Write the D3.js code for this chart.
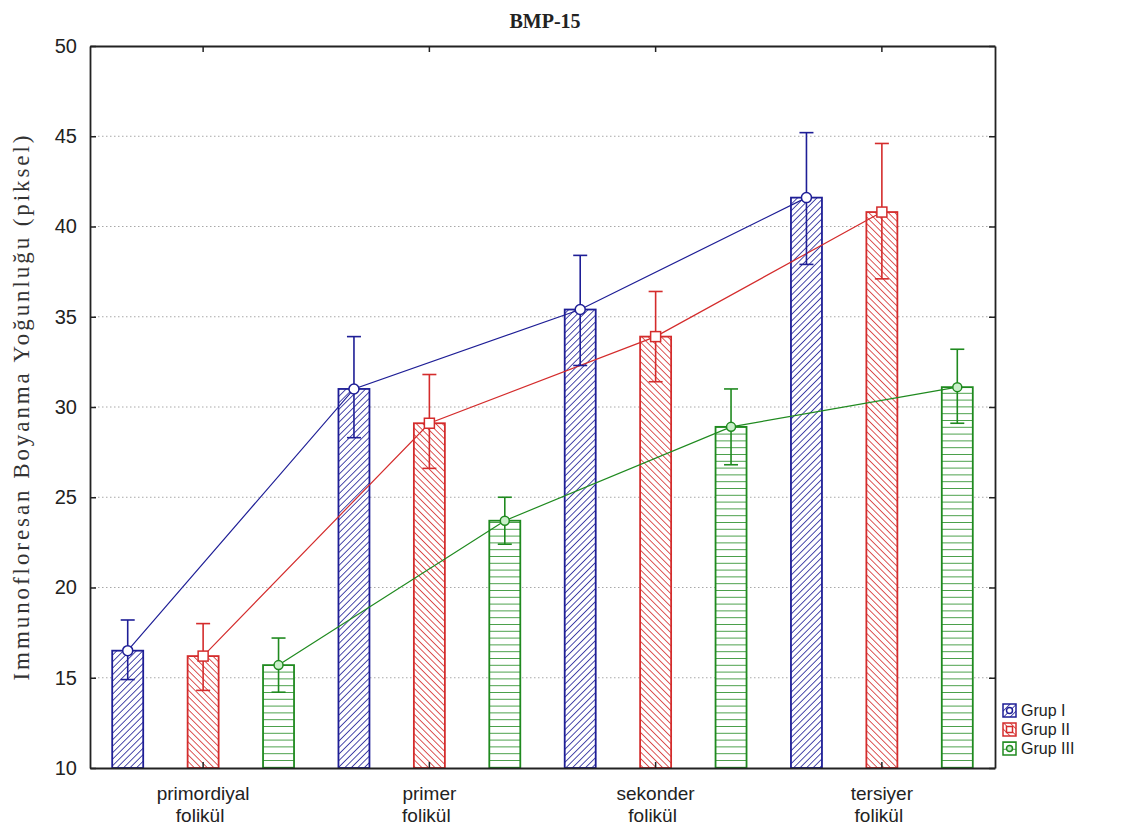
<!DOCTYPE html>
<html>
<head>
<meta charset="utf-8">
<script src="https://cdn.jsdelivr.net/npm/d3@7"></script>
<style>
  body { margin: 0; background: #fff; }
  svg { display: block; }
  .tick text { font-family: "Liberation Sans", Arial, sans-serif; font-size: 20px; fill: #222; }
</style>
</head>
<body>
<div id="chart"></div>
<script>
// categories (two text lines each)
var categories = ["primordiyal folikül", "primer folikül", "sekonder folikül", "tersiyer folikül"];
var categoryLines = [["primordiyal", "folikül"], ["primer", "folikül"], ["sekonder", "folikül"], ["tersiyer", "folikül"]];
var groups = ["Grup I", "Grup II", "Grup III"];

// means
var grup1 = [16.5, 31.0, 35.4, 41.6];
var grup2 = [16.2, 29.1, 33.9, 40.8];
var grup3 = [15.7, 23.7, 28.9, 31.1];

// error bar ends
var grup1Low = [14.9, 28.3, 32.3, 37.9];
var grup1High = [18.2, 33.9, 38.4, 45.2];
var grup2Low = [14.3, 26.6, 31.4, 37.1];
var grup2High = [18.0, 31.8, 36.4, 44.6];
var grup3Low = [14.2, 22.4, 26.8, 29.1];
var grup3High = [17.2, 25.0, 31.0, 33.2];

var yTicks = [10, 15, 20, 25, 30, 35, 40, 45, 50];

var colors = ["#1e1e96", "#d42c2c", "#1f8a1f"];
var markerFill = ["#ffffff", "#ffffff", "#c9efc9"];

var series = groups.map(function(g, i){
  var m = [grup1, grup2, grup3][i];
  var lo = [grup1Low, grup2Low, grup3Low][i];
  var hi = [grup1High, grup2High, grup3High][i];
  return {
    name: g, idx: i,
    values: categories.map(function(c, j){
      return { cat: c, mean: m[j], lo: lo[j], hi: hi[j] };
    })
  };
});

var W = 1125, H = 831;
var margin = { top: 46, right: 130, bottom: 63, left: 90 };
var width = W - margin.left - margin.right;
var height = H - margin.top - margin.bottom;

var svg = d3.select("#chart").append("svg")
  .attr("width", W).attr("height", H);

// hatch patterns
var defs = svg.append("defs");
function hatch(id, color, angle, size){
  var p = defs.append("pattern")
    .attr("id", id)
    .attr("patternUnits", "userSpaceOnUse")
    .attr("width", size).attr("height", size)
    .attr("patternTransform", "rotate(" + angle + ")");
  p.append("rect").attr("width", size).attr("height", size).attr("fill", "#fff");
  p.append("line")
    .attr("x1", 0).attr("y1", 0).attr("x2", 0).attr("y2", size)
    .attr("stroke", color).attr("stroke-width", 1.6);
}
hatch("pat0", colors[0], 45, 4.6);
hatch("pat1", colors[1], -45, 4.6);
hatch("pat2", colors[2], 90, 6.8);

var g = svg.append("g")
  .attr("transform", "translate(" + margin.left + "," + margin.top + ")");

var x0 = d3.scaleBand().domain(categories).range([0, width]);
var x1 = d3.scalePoint().domain(groups)
  .range([-x0.bandwidth() / 3, x0.bandwidth() / 3]);
var barW = x0.bandwidth() * 0.137;

var y = d3.scaleLinear().domain([10, 50]).range([height, 0]);

// grid
g.append("g")
  .selectAll("line")
  .data(yTicks.slice(1, -1))
  .enter().append("line")
  .attr("x1", 0).attr("x2", width)
  .attr("y1", function(d){ return y(d); })
  .attr("y2", function(d){ return y(d); })
  .attr("stroke", "#a8a8a8")
  .attr("stroke-dasharray", "1.5,2.5");

function cx(d, s){ return x0(d.cat) + x0.bandwidth() / 2 + x1(s.name); }

// bars
series.forEach(function(s){
  g.append("g").selectAll("rect")
    .data(s.values)
    .enter().append("rect")
    .attr("x", function(d){ return cx(d, s) - barW / 2; })
    .attr("y", function(d){ return y(d.mean); })
    .attr("width", barW)
    .attr("height", function(d){ return y(10) - y(d.mean); })
    .attr("fill", "url(#pat" + s.idx + ")")
    .attr("stroke", colors[s.idx])
    .attr("stroke-width", 1.8);
});

// mean lines
var line = d3.line()
  .x(function(d){ return d.px; })
  .y(function(d){ return y(d.mean); });
series.forEach(function(s){
  var pts = s.values.map(function(d){ return { px: cx(d, s), mean: d.mean }; });
  g.append("path")
    .datum(pts)
    .attr("d", line)
    .attr("fill", "none")
    .attr("stroke", colors[s.idx])
    .attr("stroke-width", 1.2);
});

// error bars
var capW = 7;
series.forEach(function(s){
  var eb = g.append("g").attr("stroke", colors[s.idx]).attr("stroke-width", 1.6);
  s.values.forEach(function(d){
    var c = cx(d, s);
    eb.append("line").attr("x1", c).attr("x2", c).attr("y1", y(d.lo)).attr("y2", y(d.hi));
    eb.append("line").attr("x1", c - capW).attr("x2", c + capW).attr("y1", y(d.hi)).attr("y2", y(d.hi));
    eb.append("line").attr("x1", c - capW).attr("x2", c + capW).attr("y1", y(d.lo)).attr("y2", y(d.lo));
  });
});

// markers
function drawMarker(sel, i, px, py, r){
  if(i === 1){
    sel.append("rect")
      .attr("x", px - r).attr("y", py - r)
      .attr("width", 2 * r).attr("height", 2 * r)
      .attr("fill", markerFill[i]).attr("stroke", colors[i]).attr("stroke-width", 1.5);
  } else {
    sel.append("circle")
      .attr("cx", px).attr("cy", py).attr("r", r)
      .attr("fill", markerFill[i]).attr("stroke", colors[i]).attr("stroke-width", 1.5);
  }
}
series.forEach(function(s){
  var mg = g.append("g");
  s.values.forEach(function(d){
    drawMarker(mg, s.idx, cx(d, s), y(d.mean), s.idx === 2 ? 4.5 : 5);
  });
});

// axes
var yLeft = d3.axisLeft(y).tickValues(yTicks).tickSizeInner(-6).tickSizeOuter(0).tickPadding(13);
var yRight = d3.axisRight(y).tickValues(yTicks).tickSizeInner(-6).tickSizeOuter(0).tickFormat("");
var xTop = d3.axisTop(x0).tickSizeInner(-6).tickSizeOuter(0).tickFormat("");
var xBottom = d3.axisBottom(x0).tickSizeInner(-6).tickSizeOuter(0).tickFormat("");

g.append("g").call(yLeft);
g.append("g").attr("transform", "translate(" + width + ",0)").call(yRight);
g.append("g").call(xTop);
g.append("g").attr("transform", "translate(0," + height + ")").call(xBottom);
g.selectAll(".domain").attr("stroke", "#222").attr("stroke-width", 1.8);
g.selectAll(".tick line").attr("stroke", "#222").attr("stroke-width", 1.5);

// category labels (one text per line)
var catLab = g.append("g")
  .attr("font-family", "'Liberation Sans', Arial, sans-serif")
  .attr("font-size", 19)
  .attr("fill", "#222")
  .attr("text-anchor", "middle");
categories.forEach(function(c, j){
  var mid = x0(c) + x0.bandwidth() / 2;
  catLab.append("text")
    .attr("x", mid)
    .attr("y", height + 32)
    .text(categoryLines[j][0]);
  catLab.append("text")
    .attr("x", mid - 3)
    .attr("y", height + 54)
    .text(categoryLines[j][1]);
});

// title
svg.append("text")
  .attr("x", 545).attr("y", 28)
  .attr("text-anchor", "middle")
  .attr("font-family", "'Liberation Serif', 'Times New Roman', serif")
  .attr("font-weight", "bold")
  .attr("font-size", 20)
  .attr("fill", "#222")
  .text("BMP-15");

// y label
svg.append("text")
  .attr("transform", "translate(29," + 408 + ")rotate(-90)")
  .attr("text-anchor", "middle")
  .attr("font-family", "'Liberation Serif', 'Times New Roman', serif")
  .attr("font-size", 23)
  .attr("fill", "#333")
  .attr("textLength", 545)
  .attr("lengthAdjust", "spacing")
  .text("Immunofloresan Boyanma Yoğunluğu (piksel)");

// legend
var leg = svg.append("g").attr("transform", "translate(1003,704)");
groups.forEach(function(name, i){
  var row = leg.append("g").attr("transform", "translate(0," + (i * 19) + ")");
  row.append("rect")
    .attr("width", 13).attr("height", 13)
    .attr("fill", "url(#pat" + i + ")")
    .attr("stroke", colors[i]).attr("stroke-width", 1.5);
  drawMarker(row, i, 6.5, 6.5, 3);
  row.append("text")
    .attr("x", 18).attr("y", 12)
    .attr("font-family", "'Liberation Sans', Arial, sans-serif")
    .attr("font-size", 16)
    .attr("fill", "#222")
    .text(name);
});
</script>
</body>
</html>
